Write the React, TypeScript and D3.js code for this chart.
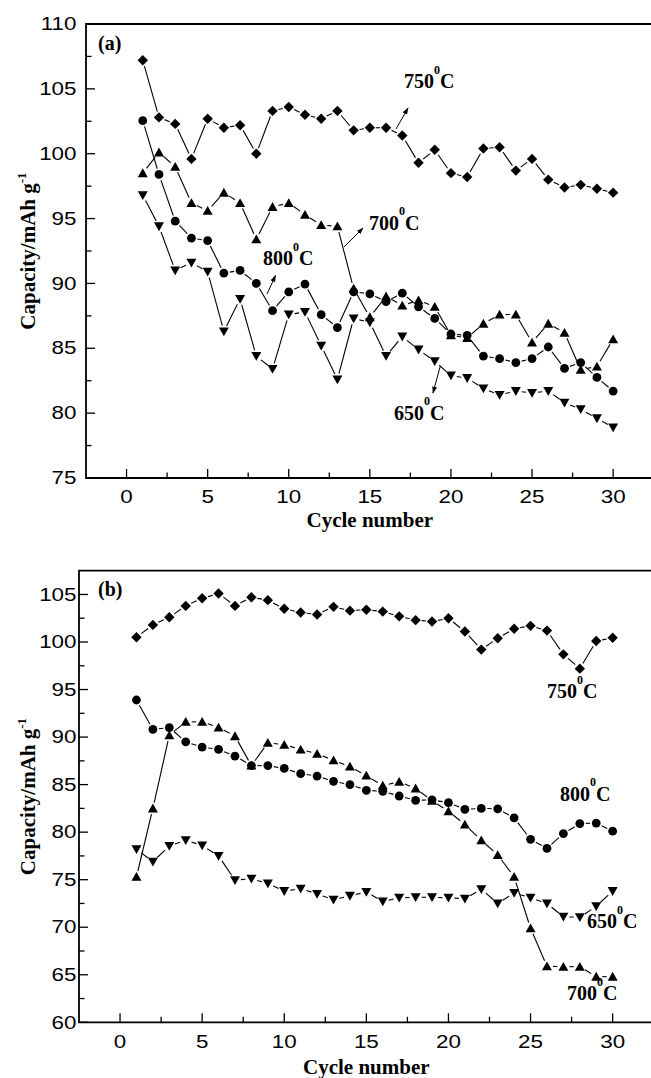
import { useEffect, useRef } from 'react';
import * as d3 from 'd3';

// cycle numbers 1..30 shared by every series
const cycles = d3.range(1, 31);

// panel (a)
const capA750 = [107.2, 102.8, 102.3, 99.6, 102.7, 102.0, 102.2, 100.0, 103.3, 103.6, 103.0, 102.7, 103.3, 101.8, 102.0, 102.0, 101.4, 99.3, 100.3, 98.5, 98.2, 100.4, 100.5, 98.7, 99.6, 98.0, 97.4, 97.6, 97.3, 97.0];
const capA800 = [102.55, 98.4, 94.8, 93.5, 93.3, 90.8, 91.0, 90.0, 87.9, 89.35, 89.95, 87.6, 86.6, 89.35, 89.2, 88.6, 89.25, 88.2, 87.3, 86.1, 86.0, 84.4, 84.2, 83.9, 84.2, 85.1, 83.45, 83.9, 82.75, 81.7];
const capA700 = [98.5, 100.1, 99.0, 96.2, 95.6, 97.0, 96.2, 93.4, 95.9, 96.2, 95.3, 94.5, 94.4, 89.6, 87.4, 89.0, 88.3, 88.7, 88.2, 86.0, 85.8, 86.9, 87.6, 87.6, 85.45, 86.9, 86.2, 83.35, 83.6, 85.7];
const capA650 = [96.8, 94.4, 91.0, 91.6, 90.9, 86.3, 88.8, 84.4, 83.4, 87.6, 87.8, 85.2, 82.6, 87.3, 87.0, 84.4, 85.9, 84.9, 84.0, 82.9, 82.7, 81.9, 81.4, 81.7, 81.55, 81.7, 80.8, 80.3, 79.6, 78.9];

// panel (b)
const capB750 = [100.5, 101.8, 102.6, 103.8, 104.6, 105.1, 103.8, 104.7, 104.4, 103.5, 103.1, 102.9, 103.7, 103.3, 103.4, 103.2, 102.7, 102.3, 102.15, 102.5, 101.1, 99.2, 100.4, 101.4, 101.7, 101.2, 98.7, 97.2, 100.1, 100.45];
const capB800 = [93.9, 90.8, 91.0, 89.5, 88.95, 88.7, 88.0, 87.0, 87.0, 86.7, 86.15, 85.9, 85.35, 85.0, 84.4, 84.3, 83.8, 83.35, 83.4, 83.1, 82.4, 82.5, 82.45, 81.5, 79.25, 78.3, 79.85, 80.9, 80.95, 80.1];
const capB700 = [75.3, 82.5, 90.2, 91.6, 91.6, 91.0, 90.1, 87.0, 89.4, 89.2, 88.7, 88.25, 87.55, 86.9, 85.95, 84.9, 85.3, 84.6, 83.3, 82.2, 80.8, 79.15, 77.6, 75.3, 69.9, 65.9, 65.85, 65.85, 64.8, 64.8];
const capB650 = [78.2, 76.9, 78.55, 79.15, 78.6, 77.5, 74.95, 75.1, 74.6, 73.8, 74.05, 73.5, 72.9, 73.3, 73.7, 72.7, 73.1, 73.15, 73.15, 73.1, 73.0, 74.0, 72.5, 73.6, 73.1, 72.5, 71.1, 71.05, 72.2, 73.8];

const xTicks = [0, 5, 10, 15, 20, 25, 30];
const yTicksA = [75, 80, 85, 90, 95, 100, 105, 110];
const yTicksB = [60, 65, 70, 75, 80, 85, 90, 95, 100, 105];

const SERIF = '"Liberation Serif", "Times New Roman", serif';
const SANS = '"Liberation Sans", Arial, sans-serif';

const markerPaths = {
    diamond: 'M0,-5.2L5.2,0L0,5.2L-5.2,0Z',
    circle: 'M4.4,0A4.4,4.4 0 1,1 -4.4,0A4.4,4.4 0 1,1 4.4,0Z',
    up: 'M0,-4.8L5,4L-5,4Z',
    down: 'M0,4.8L5,-4L-5,-4Z'
};

const panels = [
    {
        id: 'a', tag: '(a)', tagPos: [98, 49.5],
        left: 86, right: 653.7, top: 24, bottom: 478,
        yDomain: [75, 110], yTicks: yTicksA,
        xLabelY: 503, titleY: 527,
        series: [
            { values: capA750, marker: 'diamond' },
            { values: capA700, marker: 'up' },
            { values: capA800, marker: 'circle' },
            { values: capA650, marker: 'down' }
        ],
        notes: [
            { text: '750', x: 404, y: 88, arrow: [396, 129, 408, 108] },
            { text: '700', x: 369, y: 229.5, arrow: [344, 247, 363, 228] },
            { text: '800', x: 263, y: 265, arrow: [267, 294, 275.5, 275.5] },
            { text: '650', x: 394, y: 419.5, arrow: [440, 367, 433, 393] }
        ]
    },
    {
        id: 'b', tag: '(b)', tagPos: [98, 596],
        left: 79, right: 653.7, top: 570.7, bottom: 1022.3,
        yDomain: [60, 107.5], yTicks: yTicksB,
        xLabelY: 1048, titleY: 1073.5,
        series: [
            { values: capB750, marker: 'diamond' },
            { values: capB700, marker: 'up' },
            { values: capB800, marker: 'circle' },
            { values: capB650, marker: 'down' }
        ],
        notes: [
            { text: '750', x: 547, y: 698 },
            { text: '800', x: 560, y: 800.5 },
            { text: '650', x: 587, y: 928 },
            { text: '700', x: 567, y: 1000 }
        ]
    }
];

const drawPanel = (svg, p) => {
    const x = d3.scaleLinear().domain([-2.5, 32.5]).range([p.left, p.right]);
    const y = d3.scaleLinear().domain(p.yDomain).range([p.bottom, p.top]);
    const g = svg.append('g').attr('class', `panel-${p.id}`);

    // frame (right edge falls just outside the picture)
    g.append('path')
        .attr('d', `M${p.right},${p.top}H${p.left}V${p.bottom}H${p.right}`)
        .attr('fill', 'none')
        .attr('stroke', '#000')
        .attr('stroke-width', 1.8);

    // x ticks, inward
    const xMinor = d3.range(2.5, 30, 5);
    g.selectAll('line.xmaj').data(xTicks).join('line')
        .attr('x1', d => x(d)).attr('x2', d => x(d))
        .attr('y1', p.bottom).attr('y2', p.bottom - 9)
        .attr('stroke', '#000').attr('stroke-width', 1.3);
    g.selectAll('line.xmin').data(xMinor).join('line')
        .attr('x1', d => x(d)).attr('x2', d => x(d))
        .attr('y1', p.bottom).attr('y2', p.bottom - 5.5)
        .attr('stroke', '#000').attr('stroke-width', 1.3);

    g.selectAll('g.xlab').data(xTicks).join('g')
        .attr('transform', d => `translate(${x(d)},${p.xLabelY})`)
        .append('text')
        .attr('transform', 'scale(1.28,1)')
        .attr('text-anchor', 'middle')
        .style('font-family', SANS)
        .style('font-size', '17.5px')
        .text(d => d);

    // y ticks, inward
    const yMinor = d3.range(p.yDomain[0] + 2.5, p.yDomain[1] + 0.01, 5);
    g.selectAll('line.ymaj').data(p.yTicks).join('line')
        .attr('x1', p.left).attr('x2', p.left + 9)
        .attr('y1', d => y(d)).attr('y2', d => y(d))
        .attr('stroke', '#000').attr('stroke-width', 1.3);
    g.selectAll('line.ymin').data(yMinor.filter(v => v < p.yDomain[1])).join('line')
        .attr('x1', p.left).attr('x2', p.left + 5.5)
        .attr('y1', d => y(d)).attr('y2', d => y(d))
        .attr('stroke', '#000').attr('stroke-width', 1.3);

    g.selectAll('g.ylab').data(p.yTicks).join('g')
        .attr('transform', d => `translate(76.5,${y(d) + 6.2})`)
        .append('text')
        .attr('transform', 'scale(1.28,1)')
        .attr('text-anchor', 'end')
        .style('font-family', SANS)
        .style('font-size', '17.5px')
        .text(d => d);

    // axis titles
    g.append('text')
        .attr('x', (p.left + p.right) / 2)
        .attr('y', p.titleY)
        .attr('text-anchor', 'middle')
        .style('font-family', SERIF)
        .style('font-weight', 'bold')
        .style('font-size', '21px')
        .text('Cycle number');

    const yt = g.append('text')
        .attr('transform', `translate(35,${(p.top + p.bottom) / 2}) rotate(-90)`)
        .attr('text-anchor', 'middle')
        .style('font-family', SERIF)
        .style('font-weight', 'bold')
        .style('font-size', '21px');
    yt.append('tspan').text('Capacity/mAh g');
    yt.append('tspan').attr('dy', -9).style('font-size', '13px').text('-1');

    g.append('text')
        .attr('x', p.tagPos[0]).attr('y', p.tagPos[1])
        .style('font-family', SERIF)
        .style('font-weight', 'bold')
        .style('font-size', '20px')
        .text(p.tag);

    // connecting lines, broken a little around each symbol
    const gap = 6;
    p.series.forEach(s => {
        const pts = s.values.map((v, i) => [x(cycles[i]), y(v)]);
        const segs = [];
        for (let i = 0; i < pts.length - 1; i++) {
            const [x1, y1] = pts[i];
            const [x2, y2] = pts[i + 1];
            const len = Math.hypot(x2 - x1, y2 - y1);
            if (len <= gap * 2) continue;
            const ux = (x2 - x1) / len, uy = (y2 - y1) / len;
            segs.push([x1 + ux * gap, y1 + uy * gap, x2 - ux * gap, y2 - uy * gap]);
        }
        g.append('g').selectAll('line').data(segs).join('line')
            .attr('x1', d => d[0]).attr('y1', d => d[1])
            .attr('x2', d => d[2]).attr('y2', d => d[3])
            .attr('stroke', '#000').attr('stroke-width', 1.1);
    });

    p.series.forEach(s => {
        g.append('g').selectAll('path').data(s.values).join('path')
            .attr('transform', (v, i) => `translate(${x(cycles[i])},${y(v)})`)
            .attr('d', markerPaths[s.marker])
            .attr('fill', '#000');
    });

    // temperature labels
    p.notes.forEach(n => {
        const t = g.append('text')
            .attr('x', n.x).attr('y', n.y)
            .style('font-family', SERIF)
            .style('font-weight', 'bold')
            .style('font-size', '20px');
        t.append('tspan').text(n.text);
        t.append('tspan').attr('dy', -14.5).style('font-size', '12px').text('0');
        t.append('tspan').attr('dy', 14.5).text('C');
        if (n.arrow) {
            const [ax1, ay1, ax2, ay2] = n.arrow;
            g.append('line')
                .attr('x1', ax1).attr('y1', ay1).attr('x2', ax2).attr('y2', ay2)
                .attr('stroke', '#000').attr('stroke-width', 1)
                .attr('marker-end', 'url(#arrowhead)');
        }
    });
};

const App = () => {
    const svgRef = useRef(null);

    useEffect(() => {
        const svg = d3.select(svgRef.current);
        svg.selectAll('*').remove();

        svg.append('defs').append('marker')
            .attr('id', 'arrowhead')
            .attr('viewBox', '0 0 10 10')
            .attr('refX', 9).attr('refY', 5)
            .attr('markerWidth', 7).attr('markerHeight', 7)
            .attr('markerUnits', 'userSpaceOnUse')
            .attr('orient', 'auto')
            .append('path')
            .attr('d', 'M0,1.5L10,5L0,8.5Z')
            .attr('fill', '#000');

        panels.forEach(p => drawPanel(svg, p));
    }, []);

    return (
        <svg
            ref={svgRef}
            width={651}
            height={1078}
            style={{ position: 'absolute', left: 0, top: 0, background: '#fff' }}
        />
    );
};

export default App;
